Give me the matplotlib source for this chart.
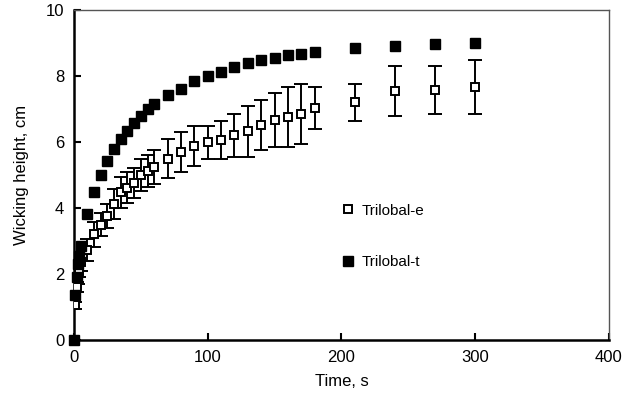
import matplotlib

matplotlib.use("Agg")
import matplotlib.pyplot as plt
from matplotlib.lines import Line2D

plt.rcParams["font.family"] = ["Liberation Sans", "DejaVu Sans"]

# Trilobal-e (open squares, with error bars)
time_e = [1, 2, 3, 4, 5, 10, 15, 20, 25, 30, 35, 40, 45, 50, 55, 60, 70, 80,
          90, 100, 110, 120, 130, 140, 150, 160, 170, 180, 210, 240, 270, 300]
height_e = [1.05, 1.6, 1.9, 2.1, 2.35, 2.73, 3.2, 3.5, 3.76, 4.12, 4.48, 4.62,
            4.76, 5.0, 5.12, 5.24, 5.5, 5.7, 5.88, 6.0, 6.06, 6.21, 6.33, 6.52,
            6.67, 6.76, 6.85, 7.03, 7.21, 7.55, 7.58, 7.67]
err_e = [0.1, 0.15, 0.2, 0.2, 0.25, 0.32, 0.38, 0.35, 0.35, 0.45, 0.47, 0.46,
         0.45, 0.48, 0.48, 0.52, 0.6, 0.6, 0.6, 0.5, 0.57, 0.65, 0.77, 0.76,
         0.83, 0.9, 0.9, 0.64, 0.56, 0.75, 0.73, 0.83]

# Trilobal-t (filled squares)
time_t = [0, 1, 2, 3, 4, 5, 10, 15, 20, 25, 30, 35, 40, 45, 50, 55, 60, 70,
          80, 90, 100, 110, 120, 130, 140, 150, 160, 170, 180, 210, 240, 270, 300]
height_t = [0, 1.35, 1.9, 2.3, 2.55, 2.85, 3.82, 4.48, 5.0, 5.43, 5.78, 6.09,
            6.33, 6.58, 6.79, 7.0, 7.15, 7.42, 7.62, 7.85, 8.0, 8.12, 8.27,
            8.39, 8.48, 8.55, 8.64, 8.67, 8.73, 8.85, 8.91, 8.97, 9.0]

fig = plt.figure(figsize=(6.29, 4.01), dpi=100)
ax = fig.add_axes([0.1176, 0.152, 0.8506, 0.823])

ax.errorbar(time_e, height_e, yerr=err_e, fmt="s", color="black",
            markerfacecolor="white", markeredgecolor="black", markersize=6,
            markeredgewidth=1.4, elinewidth=1.4, capsize=5, capthick=1.4,
            zorder=3)
ax.plot(time_t, height_t, "s", color="black", markersize=7.5,
        zorder=4, clip_on=False)

ax.set_xlim(0, 400)
ax.set_ylim(0, 10)
ax.set_xticks([0, 100, 200, 300, 400])
ax.set_yticks([0, 2, 4, 6, 8, 10])
ax.tick_params(direction="in", length=5, width=1.5, labelsize=12,
               top=False, right=False, pad=7)
ax.set_xlabel("Time, s", fontsize=12, labelpad=7)
ax.set_ylabel("Wicking height, cm", fontsize=12, labelpad=12)

for side in ["left", "bottom"]:
    ax.spines[side].set_linewidth(1.8)
for side in ["top", "right"]:
    ax.spines[side].set_linewidth(1.0)
    ax.spines[side].set_color("#555555")

handles = [
    Line2D([], [], marker="s", linestyle="none", markerfacecolor="white",
           markeredgecolor="black", markersize=6, markeredgewidth=1.4),
    Line2D([], [], marker="s", linestyle="none", color="black", markersize=7.5),
]
ax.legend(handles, ["Trilobal-e", "Trilobal-t"], loc="upper left",
          bbox_to_anchor=(0.47, 0.455), frameon=False, fontsize=11,
          labelspacing=2.45, handletextpad=0.3, handlelength=1.2)

fig.savefig("out.png", dpi=100)
